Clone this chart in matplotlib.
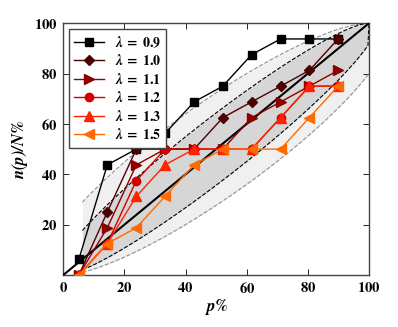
import matplotlib
matplotlib.use("Agg")
import matplotlib.pyplot as plt
import numpy as np

plt.rcParams['mathtext.fontset'] = 'stix'
plt.rcParams['font.family'] = 'serif'

# data
p = [5.1, 14.4, 23.9, 33.3, 42.8, 52.2, 61.6, 71.1, 80.5, 89.9]
lam09 = [6.25, 43.75, 50, 56.25, 68.75, 75, 87.5, 93.75, 93.75, 93.75]
lam10 = [0, 25, 50, 50, 50, 62.5, 68.75, 75, 81.25, 93.75]
lam11 = [0, 18.75, 43.75, 50, 50, 50, 62.5, 68.75, 75, 81.25]
lam12 = [0, 12.5, 37.5, 50, 50, 50, 50, 62.5, 75, 75]
lam13 = [0, 12.5, 31.25, 43.75, 50, 50, 50, 62.5, 75, 75]
lam15 = [0, 12.5, 18.75, 31.25, 43.75, 50, 50, 50, 62.5, 75]
labels = ['0.9', '1.0', '1.1', '1.2', '1.3', '1.5']
colors = ['#000000', '#4d0000', '#8c0000', '#d40000', '#ff2200', '#ff6a00']
markers = ['s', 'D', '>', 'o', '^', '<']
msizes = [6, 5, 7, 6, 7, 7]

# binomial-like bands, N = 16
c_out = 0.5
c_in = 0.3
yy = np.linspace(0, 1, 2001)
xgrid = np.linspace(6.25, 100, 300)

def band(c, sign):
    xs = yy + sign * c * np.sqrt(yy * (1 - yy))
    ok = (xs >= 0) & (xs <= 1)
    xs, ys = xs[ok], yy[ok]
    if sign < 0:
        keep = ys >= ys[np.argmin(xs)]
    else:
        keep = ys <= ys[np.argmax(xs)]
    xs, ys = xs[keep], ys[keep]
    o = np.argsort(xs)
    y = np.interp(xgrid / 100, xs[o], ys[o]) * 100
    return y

up_out = band(c_out, -1)
lo_out = band(c_out, 1)
up_in = band(c_in, -1)
lo_in = band(c_in, 1)

fig = plt.figure(figsize=(3.98, 3.27), dpi=100)
ax = fig.add_axes([0.159, 0.159, 0.768, 0.770])

ax.fill_between(xgrid, lo_out, up_out, color='#f0f0f0', lw=0, zorder=1)
ax.fill_between(xgrid, lo_in, up_in, color='#d6d6d6', lw=0, zorder=1)
ax.plot(xgrid, up_out, '--', color='#909090', lw=0.8, zorder=2)
ax.plot(xgrid, lo_out, '--', color='#909090', lw=0.8, zorder=2)
ax.plot(xgrid, up_in, '--', color='black', lw=0.8, zorder=2)
ax.plot(xgrid, lo_in, '--', color='black', lw=0.8, zorder=2)
ax.plot([0, 100], [0, 100], color='black', lw=1.5, zorder=3)

series = [lam09, lam10, lam11, lam12, lam13, lam15]
for s, lab, col, m, ms in zip(series, labels, colors, markers, msizes):
    ax.plot(p, s, color=col, marker=m, ms=ms, mec=col, lw=1,
            label=r'$\mathbfit{\lambda}\;\mathbf{=}\;\mathbf{%s}$' % lab, zorder=4)

ax.set_xlim(0, 100)
ax.set_ylim(0, 100)
ax.set_xticks([0, 20, 40, 60, 80, 100])
ax.set_xticklabels([r'$\mathbf{%d}$' % v for v in [0, 20, 40, 60, 80, 100]])
ax.set_yticks([20, 40, 60, 80, 100])
ax.set_yticklabels([r'$\mathbf{%d}$' % v for v in [20, 40, 60, 80, 100]])
ax.tick_params(direction='in', top=True, right=True, labelsize=10.5, length=4,
               width=0.6, pad=4)
for sp in ax.spines.values():
    sp.set_linewidth(1.0)
    sp.set_color('#444444')

ax.set_xlabel(r'$\mathbfit{p\%}$', fontsize=12, labelpad=1)
ax.set_ylabel(r'$\mathbfit{n(p)/N\%}$', fontsize=12, labelpad=3)

leg = ax.legend(loc='upper left', numpoints=1, fontsize=10, fancybox=False,
                edgecolor='#444444', framealpha=1, handlelength=2.1,
                handletextpad=0.8, borderpad=0.4, labelspacing=0.25,
                borderaxespad=0.4)
leg.get_frame().set_linewidth(1.0)

fig.savefig('out.png', dpi=100)
